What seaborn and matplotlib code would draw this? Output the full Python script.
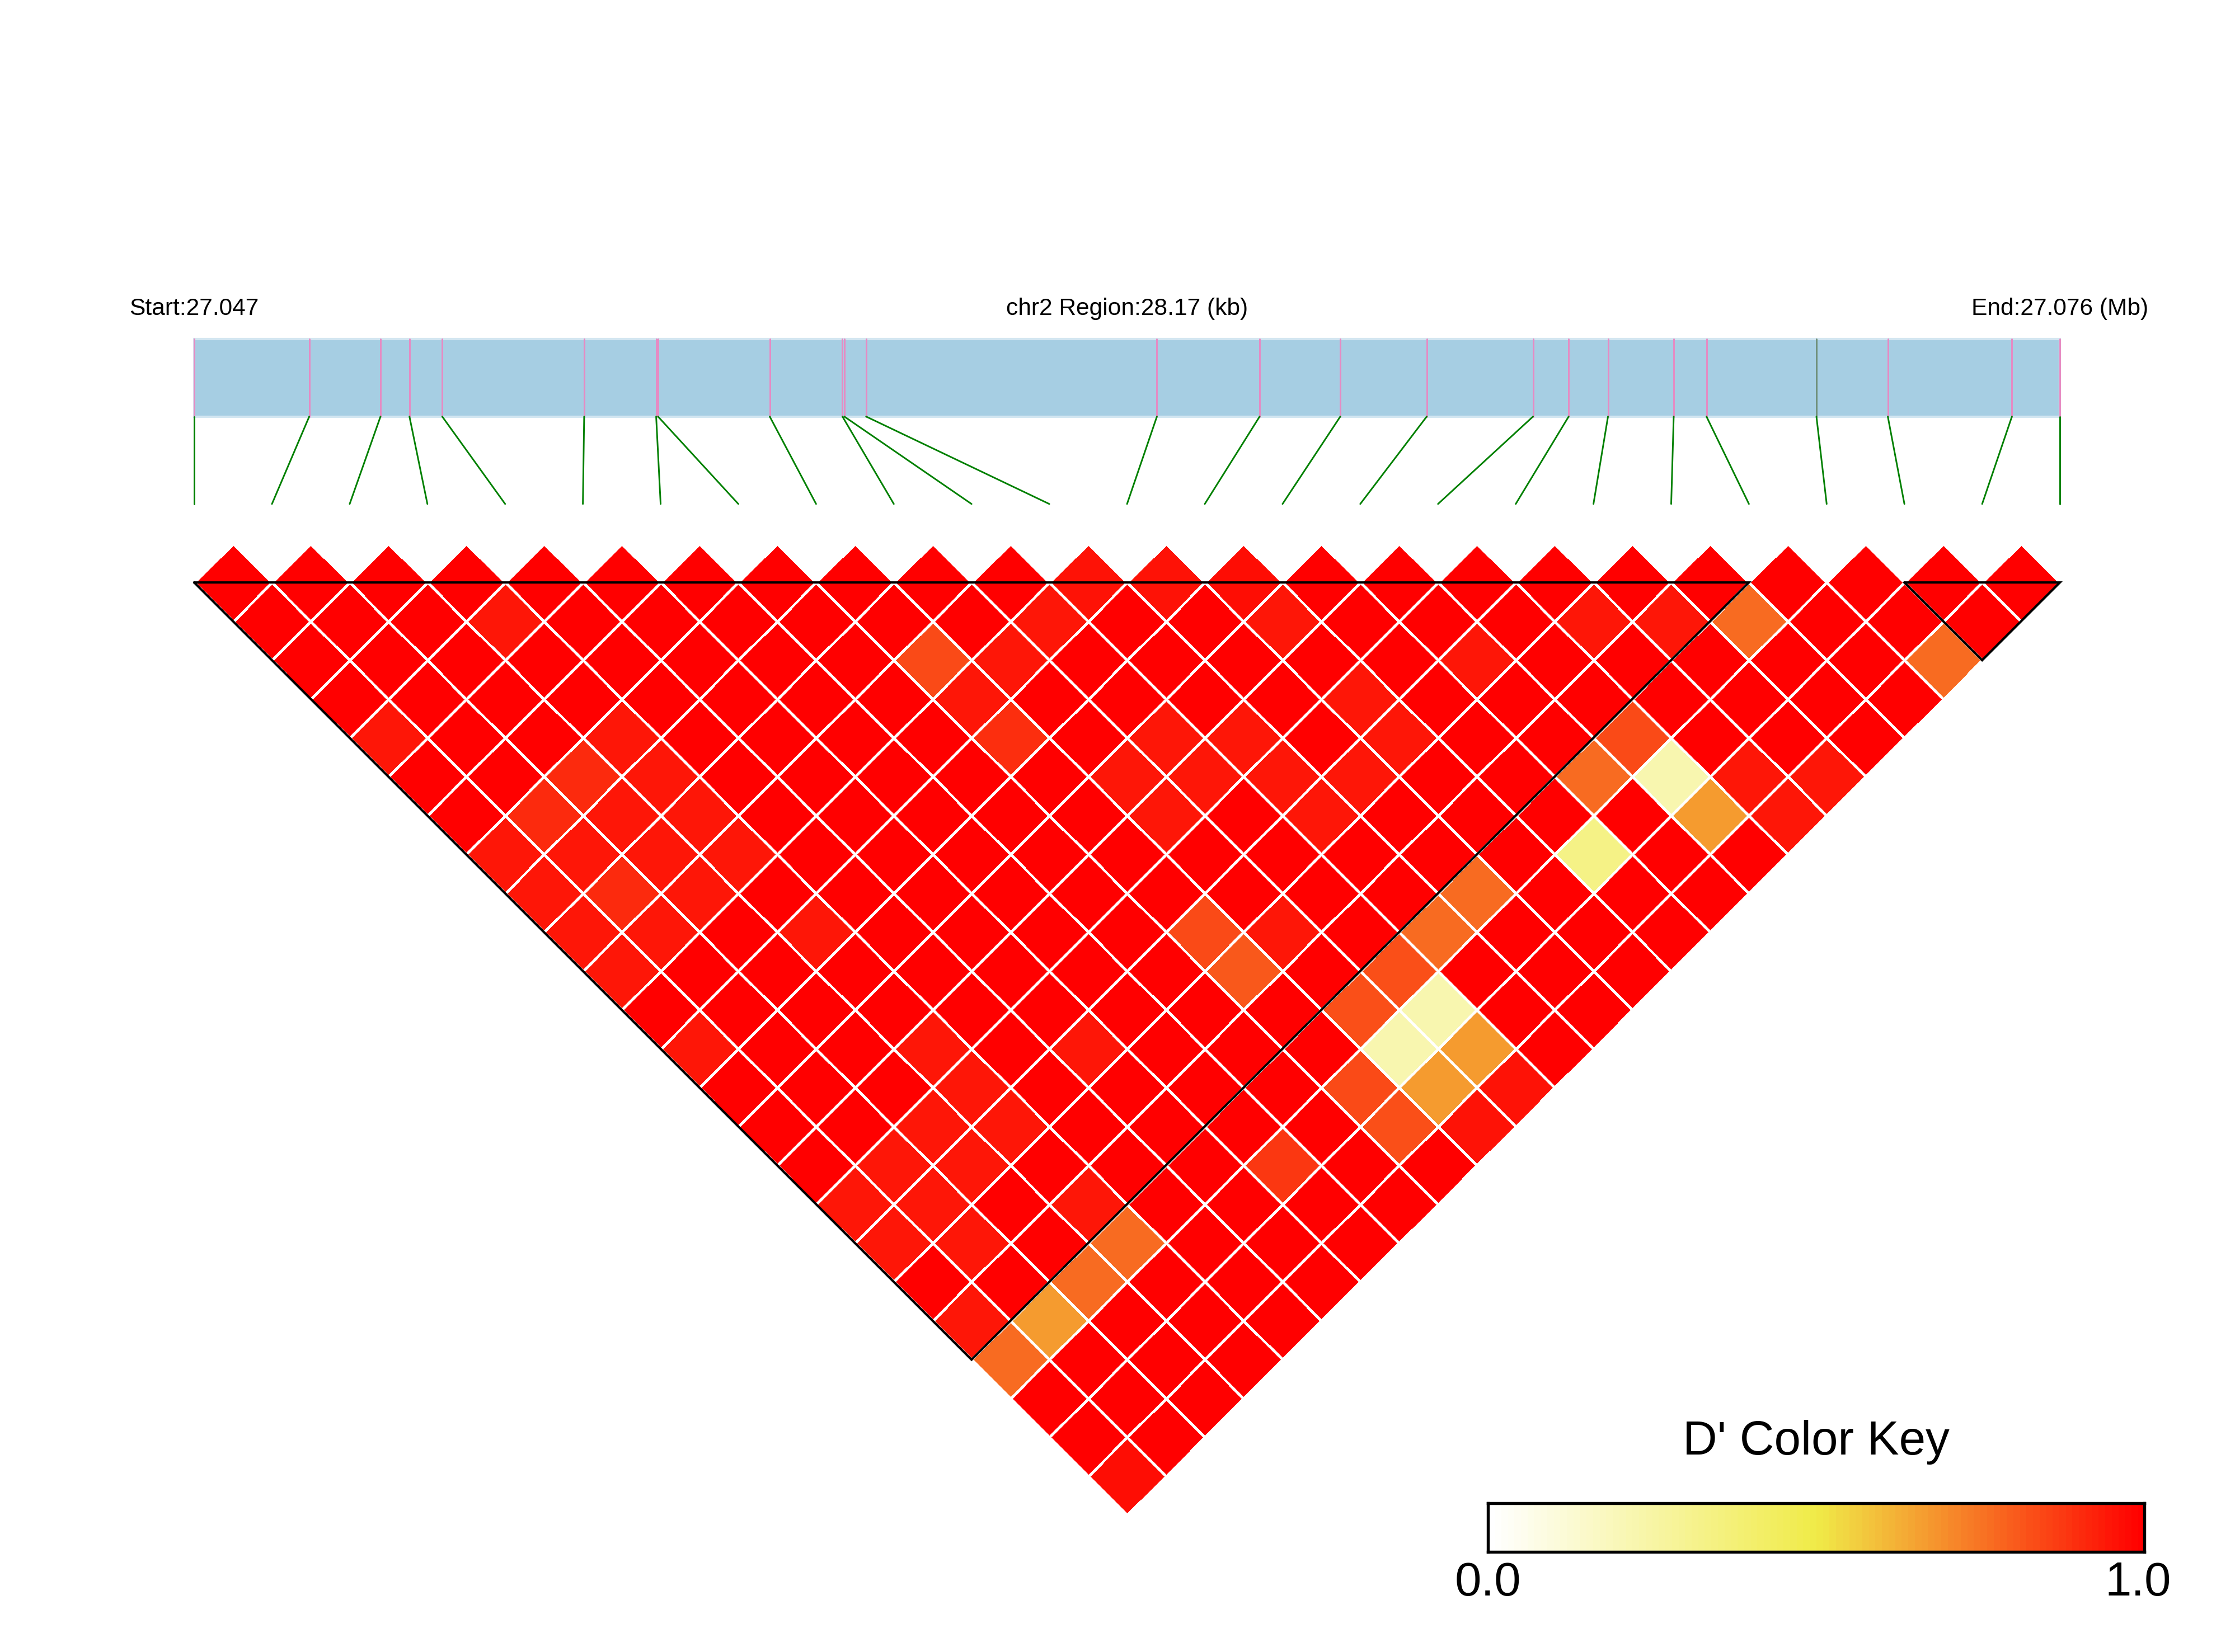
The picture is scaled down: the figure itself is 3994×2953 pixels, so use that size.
import numpy as np
import pandas as pd
import matplotlib
matplotlib.use("Agg")
import matplotlib.pyplot as plt
import seaborn as sns
from matplotlib.colors import LinearSegmentedColormap
from matplotlib.transforms import Affine2D
from matplotlib.patches import Rectangle, Polygon

# ---------------- data ----------------
chrom = "chr2"
snp_positions = [27047400, 27049137, 27050213, 27050650, 27051145, 27053288,
                 27054375, 27054403, 27056090, 27057188, 27057216, 27057545,
                 27061936, 27063487, 27064705, 27066010, 27067615, 27068153,
                 27068747, 27069739, 27070234, 27071894, 27072972, 27074846,
                 27075570]
ld_blocks = [(0, 20), (22, 24)]
# D' values, row i holds pairs (i, i+1) ... (i, 24)
dprime_rows = [
    [1, 1, 1, 1, .95, 1, 1, .95, .95, .95, .95, 1, .95, 1, 1, 1, .95, .95, 1, .95, .77, 1, 1, .97],
    [1, 1, 1, 1, 1, 1, .91, .95, .91, .95, 1, 1, 1, 1, 1, .95, .95, .95, 1, .67, 1, 1, 1],
    [1, 1, 1, 1, 1, .91, .95, .95, .95, 1, 1, 1, 1, 1, .95, .95, 1, 1, .77, 1, 1, 1],
    [1, .95, 1, 1, .95, .95, .95, .95, 1, .95, 1, 1, .95, .95, .95, 1, .95, .77, 1, 1, 1],
    [1, 1, 1, 1, 1, 1, 1, 1, 1, 1, 1, 1, 1, 1, 1, 1, 1, 1, 1, 1],
    [1, 1, 1, 1, 1, 1, 1, 1, 1, 1, 1, 1, .95, 1, 1, 1, 1, 1, 1],
    [1, 1, 1, 1, 1, 1, 1, 1, 1, 1, 1, 1, 1, 1, 1, .88, 1, 1],
    [1, 1, 1, 1, 1, 1, 1, 1, 1, 1, 1, 1, 1, 1, 1, 1, 1],
    [1, 1, .84, .95, .90, 1, 1, 1, 1, .84, .81, 1, 1, .84, .83, 1],
    [1, 1, .95, 1, 1, .95, .95, 1, 1, .95, 1, .83, .22, .67, .96],
    [1, .95, 1, 1, .95, .95, 1, 1, 1, 1, .83, .22, .67, .96],
    [.96, 1, 1, 1, .95, .95, .95, 1, 1, .77, 1, 1, 1],
    [.96, 1, 1, 1, 1, .95, 1, 1, .77, 1, 1, 1],
    [.97, .95, 1, .95, .95, 1, 1, 1, 1, 1, 1],
    [1, 1, 1, 1, 1, 1, 1, .33, 1, 1],
    [1, 1, .95, 1, 1, .77, 1, 1, 1],
    [1, 1, 1, 1, .84, .22, .67, 1],
    [1, .95, 1, 1, 1, .95, .95],
    [1, .95, 1, 1, 1, .95],
    [1, .77, 1, 1, 1],
    [1, 1, 1, 1],
    [1, 1, .77],
    [1, 1],
    [1],
]

# ---------------- style ----------------
sns.set_theme(style="white")
plt.rcParams["font.family"] = ["Liberation Sans", "DejaVu Sans"]
plt.rcParams["text.color"] = "black"

n = len(snp_positions)
M = np.full((n, n), np.nan)
for i, row in enumerate(dprime_rows):
    for k, v in enumerate(row):
        M[i, i + 1 + k] = v
df = pd.DataFrame(M)

cmap = LinearSegmentedColormap.from_list(
    "dprime", [(0.0, "#FFFFFF"), (0.5, "#F0EB48"), (1.0, "#FF0000")])

W, H = 3994, 2953
UNIT, X0, Y0 = 138.9, 347.0, 1041.5
fig = plt.figure(figsize=(13.315, 9.845), dpi=300)
ax = fig.add_axes([0, 0, 1, 1])

# rotated LD heatmap
sns.heatmap(df, mask=df.isna(), cmap=cmap, vmin=0, vmax=1, cbar=False,
            linewidths=0.8, linecolor="white",
            xticklabels=False, yticklabels=False, ax=ax)
mesh = ax.collections[0]
rot = Affine2D(np.array([[0.5, 0.5, -0.5], [-0.5, 0.5, 0.5], [0, 0, 1]]))
mesh.set_transform(rot + ax.transData)
clip = Polygon([(-0.5, 0.5005), (n - 0.5, 0.5005), (n - 0.5, 0),
                ((n - 1) / 2, -(n - 1) / 2 - 0.5), (-0.5, 0)],
               closed=True, transform=ax.transData)
mesh.set_clip_path(clip)

ax.set_xlim(-X0 / UNIT, (W - X0) / UNIT)
ax.set_ylim((Y0 - H) / UNIT, Y0 / UNIT)
ax.axis("off")

# LD blocks
for a, b in ld_blocks:
    ax.plot([a, b, (a + b) / 2, a], [0, 0, -(b - a) / 2, 0],
            color="black", lw=1.0, zorder=6, solid_joinstyle="miter")

# gene region bar and SNP markers
start, end = snp_positions[0], snp_positions[-1]
span = end - start
xs = [(p - start) / span * (n - 1) for p in snp_positions]
bar_bottom, bar_top, link_bottom = 2.135, 3.135, 1.01
ax.add_patch(Rectangle((0, bar_bottom), n - 1, bar_top - bar_bottom,
                       facecolor="#A6CEE3", edgecolor="#D3E6F1",
                       linewidth=1.0, zorder=3))
marker_colors = ["#E78AC3"] * n
marker_colors[21] = "#6F8F77"
for k, x in enumerate(xs):
    ax.plot([x, x], [bar_bottom, bar_top], color=marker_colors[k], lw=0.7, zorder=4)
    ax.plot([x, k], [bar_bottom, link_bottom], color="green", lw=0.7, zorder=4)

label_y = 3.445
ax.text(0, label_y, f"Start:{start / 1e6:.3f}", ha="center", va="baseline",
        fontsize=10.2, color="black")
ax.text((n - 1) / 2, label_y, f"{chrom} Region:{span / 1e3:.2f} (kb)",
        ha="center", va="baseline", fontsize=10.2, color="black")
ax.text(n - 1, label_y, f"End:{end / 1e6:.3f} (Mb)", ha="center", va="baseline",
        fontsize=10.2, color="black")

# colour key
cx0, cx1, cy0, cy1 = 2659, 3832, 2687, 2774
cax = fig.add_axes([cx0 / W, 1 - cy1 / H, (cx1 - cx0) / W, (cy1 - cy0) / H])
grad = pd.DataFrame([np.linspace(0, 1, 100)])
sns.heatmap(grad, cmap=cmap, vmin=0, vmax=1, cbar=False,
            xticklabels=False, yticklabels=False, ax=cax)
for sp in cax.spines.values():
    sp.set_visible(True)
    sp.set_color("black")
    sp.set_linewidth(1.3)

fig.text((cx0 + cx1) / 2 / W, 1 - 2600 / H, "D' Color Key", ha="center",
         va="baseline", fontsize=20.5, color="black")
fig.text(cx0 / W, 1 - 2852 / H, "0.0", ha="center", va="baseline",
         fontsize=20.5, color="black")
fig.text((cx1 - 12) / W, 1 - 2852 / H, "1.0", ha="center", va="baseline",
         fontsize=20.5, color="black")

fig.savefig("out.png", dpi=300, facecolor="white")
